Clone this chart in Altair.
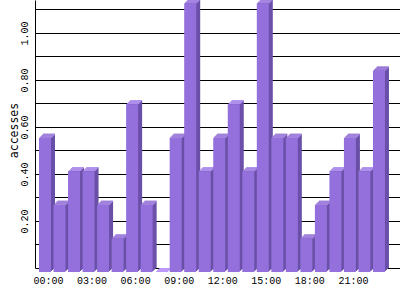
import altair as alt
import pandas as pd

# hour of day (0..23) and average accesses per hour
hours = list(range(24))
accesses = [0.571, 0.286, 0.429, 0.429, 0.286, 0.143, 0.714, 0.286, 0.0, 0.571,
            1.143, 0.429, 0.571, 0.714, 0.429, 1.143, 0.571, 0.571, 0.143, 0.286,
            0.429, 0.571, 0.429, 0.857]
label_hours = [0, 3, 6, 9, 12, 15, 18, 21]
grid_values = [0.1, 0.2, 0.3, 0.4, 0.5, 0.6, 0.7, 0.8, 0.9, 1.0, 1.1]

df = pd.DataFrame({"hour": hours, "value": accesses})

FRONT = "#9370DB"
SIDE = "#6B50A8"
TOP = "#BB9AF7"
DEPTH = 4

x_enc = alt.X(
    "hour:Q",
    scale=alt.Scale(domain=[-0.2755, 24.862], nice=False, zero=False),
    axis=alt.Axis(
        values=label_hours,
        labelExpr="(datum.value < 10 ? '0' : '') + datum.value + ':00'",
        title=None, ticks=False, grid=False, labelFlush=False, labelOverlap=False,
        labelOffset=9, labelPadding=7, labelFont="Liberation Mono", labelFontSize=10,
        labelColor="black", domainColor="black", domainWidth=1,
    ),
)
y_scale = alt.Scale(domain=[0, 1.14], nice=False)
y_axis = alt.Axis(
    values=grid_values,
    labelExpr="round(datum.value*10) % 2 == 0 && datum.value < 1.05 ? format(datum.value, '.2f') : ''",
    title="accesses", titleFont="DejaVu Sans Mono", titleFontSize=11.5, titleFontWeight="normal",
    titleColor="black", titleX=-18, titleY=130, titleAngle=270, titleBaseline="alphabetic",
    titleAlign="center",
    ticks=False, grid=True, gridColor="black", gridOpacity=1, gridWidth=1,
    labelAngle=270, labelAlign="center", labelBaseline="alphabetic", labelPadding=8,
    labelFont="Liberation Mono", labelFontSize=10, labelColor="black",
    domainColor="black", domainWidth=1, labelOverlap=False,
)

base = alt.Chart(df).transform_calculate(hx2="datum.hour + 0.8264")

layers = []
for k in range(DEPTH, 0, -1):
    dark = base.mark_bar(color=SIDE, xOffset=k, x2Offset=k, yOffset=DEPTH - k, y2Offset=DEPTH - k).encode(
        x=x_enc, x2="hx2:Q", y=alt.Y("value:Q", scale=y_scale, axis=y_axis), y2=alt.datum(0)
    )
    strip = base.mark_bar(color=TOP, xOffset=k, x2Offset=k, yOffset=DEPTH - k, y2Offset=DEPTH - k + 1).encode(
        x=x_enc, x2="hx2:Q", y=alt.Y("value:Q", scale=y_scale, axis=y_axis), y2="value:Q"
    )
    layers += [dark, strip]

front = base.mark_bar(color=FRONT, yOffset=DEPTH, y2Offset=DEPTH).encode(
    x=x_enc, x2="hx2:Q", y=alt.Y("value:Q", scale=y_scale, axis=y_axis), y2=alt.datum(0)
)
layers.append(front)

chart = alt.layer(*layers).properties(
    width=365, height=268, autosize="none",
    padding={"left": 35, "top": 0, "right": 0, "bottom": 32},
    background="white",
).configure_view(strokeWidth=0)

chart.save("out.html", embed_options={"renderer": "svg", "actions": False})
